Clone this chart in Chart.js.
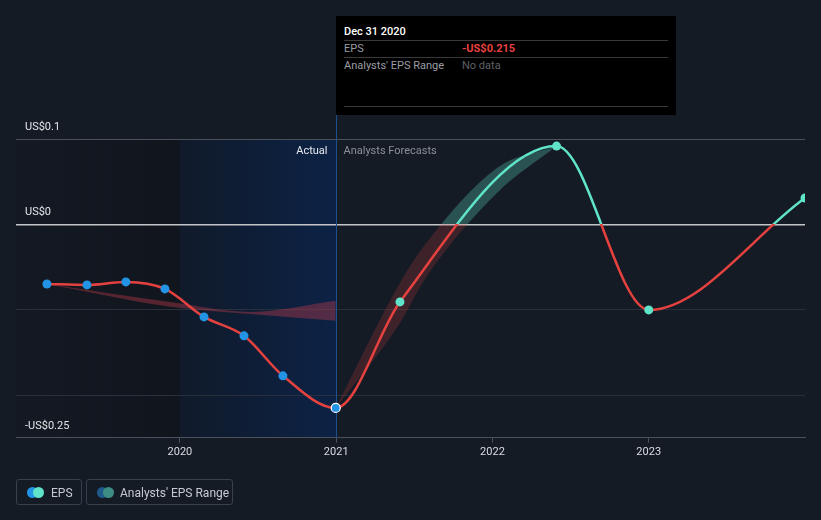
<!DOCTYPE html>
<html>
<head>
<meta charset="utf-8">
<script src="https://cdn.jsdelivr.net/npm/chart.js@4"></script>
<style>
  html, body { margin: 0; padding: 0; background: #151b25; }
  body { width: 821px; height: 520px; position: relative; overflow: hidden; font-family: Roboto, "Open Sans", sans-serif; }
  #wrap { position: absolute; left: 0; top: 0; width: 821px; height: 520px; }
  .tt { position: absolute; left: 336px; top: 16px; width: 340px; height: 99px; background: #000; }
  .tt .t { position: absolute; font-size: 11px; line-height: 13px; white-space: nowrap; }
  .tt .sep { position: absolute; left: 8px; width: 324px; height: 1px; background: #3a3a3a; }
  .lg { position: absolute; top: 479px; height: 26px; border: 1px solid #3a404b; border-radius: 3px; box-sizing: border-box; }
  .lg .dot { position: absolute; top: 7px; width: 11px; height: 11px; border-radius: 50%; }
  .lg .txt { position: absolute; top: 6px; font-size: 12px; line-height: 14px; color: #c6cad0; white-space: nowrap; }
</style>
</head>
<body>
<div id="wrap"><canvas id="c" width="821" height="520"></canvas></div>

<div class="tt">
  <div class="t" style="left:8px;top:9px;color:#ffffff;font-weight:500;">Dec 31 2020</div>
  <div class="sep" style="top:24px;"></div>
  <div class="t" style="left:8px;top:26px;color:#9a9da3;">EPS</div>
  <div class="t" style="left:126px;top:26px;color:#e8413f;font-weight:700;">-US$0.215</div>
  <div class="sep" style="top:41px;"></div>
  <div class="t" style="left:8px;top:43px;color:#9a9da3;">Analysts' EPS Range</div>
  <div class="t" style="left:126px;top:43px;color:#5e6167;">No data</div>
  <div class="sep" style="top:90px;"></div>
</div>

<div class="lg" style="left:16px;width:66px;">
  <div class="dot" style="left:10px;background:#2394e5;"></div>
  <div class="dot" style="left:16px;background:#5fe3c9;"></div>
  <div class="txt" style="left:34px;">EPS</div>
</div>
<div class="lg" style="left:86px;width:147px;">
  <div class="dot" style="left:10px;background:#1e5a8a;"></div>
  <div class="dot" style="left:16px;background:#3d8d85;"></div>
  <div class="txt" style="left:33px;">Analysts' EPS Range</div>
</div>

<script>
// ---- data ----
const epsDates = [2019.149, 2019.405, 2019.654, 2019.904, 2020.154, 2020.41, 2020.659, 2020.997, 2021.408, 2022.41, 2023.0, 2024.0];
const epsValues = [-0.0698, -0.0709, -0.0674, -0.0756, -0.1084, -0.1306, -0.1774, -0.215, -0.0908, 0.0917, -0.1002, 0.0309];
const epsIsForecast = [false, false, false, false, false, false, false, false, true, true, true, true];

const pastRangeDates = [2019.149, 2019.94, 2020.45, 2020.997];
const pastRangeHigh = [-0.0698, -0.091, -0.1025, -0.0895];
const pastRangeLow = [-0.0698, -0.0965, -0.105, -0.113];

const fcRangeDates = [2020.997, 2021.408, 2021.568, 2022.029, 2022.41];
const fcRangeHigh = [-0.215, -0.0686, -0.024, 0.066, 0.0917];
const fcRangeLow = [-0.215, -0.1154, -0.0639, 0.0368, 0.0917];

const xTickValues = [2020, 2021, 2022, 2023];
const yTickValues = [-0.25, -0.2, -0.1, 0, 0.1];
const yTickLabels = { "0.1": "US$0.1", "0": "US$0", "-0.25": "-US$0.25" };
const actualStart = 2020;
const actualEnd = 2021;
const xMin = 2018.951, xMax = 2024.0;
const yMin = -0.25, yMax = 0.1;

// ---- colours ----
const RED = '#e5413f';
const TEAL = '#5fe3c9';
const BLUE = '#2394e5';

function splitGradient(chart, above, below) {
  const { ctx, chartArea, scales } = chart;
  if (!chartArea) return below;
  const y0 = scales.y.getPixelForValue(0);
  const g = ctx.createLinearGradient(0, chartArea.top, 0, chartArea.bottom);
  let s = (y0 - chartArea.top) / (chartArea.bottom - chartArea.top);
  s = Math.min(1, Math.max(0, s));
  g.addColorStop(0, above);
  g.addColorStop(s, above);
  g.addColorStop(s, below);
  g.addColorStop(1, below);
  return g;
}

const toXY = (xs, ys) => xs.map((x, i) => ({ x: x, y: ys[i] }));

const bgPlugin = {
  id: 'bg',
  beforeDraw(chart) {
    const { ctx, chartArea: a, scales } = chart;
    const x1 = scales.x.getPixelForValue(actualStart);
    const x2 = scales.x.getPixelForValue(actualEnd);
    ctx.save();
    let g = ctx.createLinearGradient(a.left, 0, x1, 0);
    g.addColorStop(0, 'rgba(12,14,18,0.10)');
    g.addColorStop(1, 'rgba(12,14,18,0.40)');
    ctx.fillStyle = g;
    ctx.fillRect(a.left, a.top, x1 - a.left, a.bottom - a.top);
    g = ctx.createLinearGradient(x1, 0, x2, 0);
    g.addColorStop(0, '#101a2a');
    g.addColorStop(1, '#0c2245');
    ctx.fillStyle = g;
    ctx.fillRect(x1, a.top, x2 - x1, a.bottom - a.top);
    ctx.restore();
  },
  beforeDatasetsDraw(chart) {
    const { ctx, chartArea: a, scales } = chart;
    const x2 = Math.round(scales.x.getPixelForValue(actualEnd)) + 0.5;
    ctx.save();
    ctx.strokeStyle = '#1b4f8e';
    ctx.lineWidth = 1;
    ctx.beginPath();
    ctx.moveTo(x2, 115);
    ctx.lineTo(x2, a.bottom);
    ctx.stroke();
    ctx.font = '11px Roboto';
    ctx.textBaseline = 'middle';
    ctx.textAlign = 'right';
    ctx.fillStyle = '#e8eaee';
    ctx.fillText('Actual', x2 - 9, a.top + 12);
    ctx.textAlign = 'left';
    ctx.fillStyle = '#8b9098';
    ctx.fillText('Analysts Forecasts', x2 + 7, a.top + 12);
    ctx.restore();
  }
};

Chart.defaults.font.family = 'Roboto';

new Chart(document.getElementById('c'), {
  type: 'line',
  data: {
    datasets: [
      {
        label: 'EPS',
        data: toXY(epsDates, epsValues),
        borderColor: (c) => splitGradient(c.chart, TEAL, RED),
        borderWidth: 2.5,
        cubicInterpolationMode: 'monotone',
        pointRadius: 4.5,
        pointHoverRadius: 4.5,
        pointBackgroundColor: epsIsForecast.map(f => f ? TEAL : BLUE),
        pointBorderColor: epsDates.map((d, i) => i === 7 ? '#ffffff' : (epsIsForecast[i] ? TEAL : BLUE)),
        pointBorderWidth: epsDates.map((d, i) => i === 7 ? 1.2 : 0),
        fill: false,
        order: 0
      },
      {
        label: 'pastHigh',
        data: toXY(pastRangeDates, pastRangeHigh),
        borderWidth: 0,
        pointRadius: 0,
        cubicInterpolationMode: 'monotone',
        backgroundColor: 'rgba(200,60,80,0.38)',
        fill: '+1',
        order: 2
      },
      {
        label: 'pastLow',
        data: toXY(pastRangeDates, pastRangeLow),
        borderWidth: 0,
        pointRadius: 0,
        cubicInterpolationMode: 'monotone',
        fill: false,
        order: 2
      },
      {
        label: 'fcHigh',
        data: toXY(fcRangeDates, fcRangeHigh),
        borderWidth: 0,
        pointRadius: 0,
        cubicInterpolationMode: 'monotone',
        backgroundColor: (c) => splitGradient(c.chart, 'rgba(95,227,201,0.28)', 'rgba(229,65,63,0.2)'),
        fill: '+1',
        order: 2
      },
      {
        label: 'fcLow',
        data: toXY(fcRangeDates, fcRangeLow),
        borderWidth: 0,
        pointRadius: 0,
        cubicInterpolationMode: 'monotone',
        fill: false,
        order: 2
      }
    ]
  },
  options: {
    responsive: false,
    animation: false,
    events: [],
    layout: { padding: { left: 16, right: 16, top: 139, bottom: 58 } },
    plugins: { legend: { display: false }, tooltip: { enabled: false } },
    scales: {
      x: {
        type: 'linear',
        min: xMin,
        max: xMax,
        afterBuildTicks: (s) => { s.ticks = xTickValues.map(v => ({ value: v })); },
        ticks: {
          callback: (v) => String(v),
          color: '#d9dce1',
          font: { size: 11 },
          padding: 3,
          maxRotation: 0,
          autoSkip: false
        },
        grid: { drawOnChartArea: false, drawTicks: true, tickLength: 5, color: '#4b515c' },
        border: { color: '#4b515c', width: 1 }
      },
      y: {
        type: 'linear',
        min: yMin,
        max: yMax,
        afterBuildTicks: (s) => { s.ticks = yTickValues.map(v => ({ value: v })); },
        afterFit: (s) => { s.width = 0; },
        ticks: {
          mirror: true,
          padding: 9,
          labelOffset: -12,
          color: '#e3e6ea',
          font: { size: 11 },
          callback: (v) => yTickLabels[String(Math.round(v * 100) / 100)] || ''
        },
        grid: {
          drawTicks: false,
          color: (c) => {
            const v = c.tick ? Math.round(c.tick.value * 100) / 100 : null;
            if (v === 0) return '#c3c5c9';
            if (v === 0.1 || v === -0.25) return '#4b515c';
            return '#29303b';
          },
          lineWidth: (c) => (c.tick && Math.abs(c.tick.value) < 1e-9) ? 1.5 : 1
        },
        border: { display: false }
      }
    }
  },
  plugins: [bgPlugin]
});
</script>
</body>
</html>
